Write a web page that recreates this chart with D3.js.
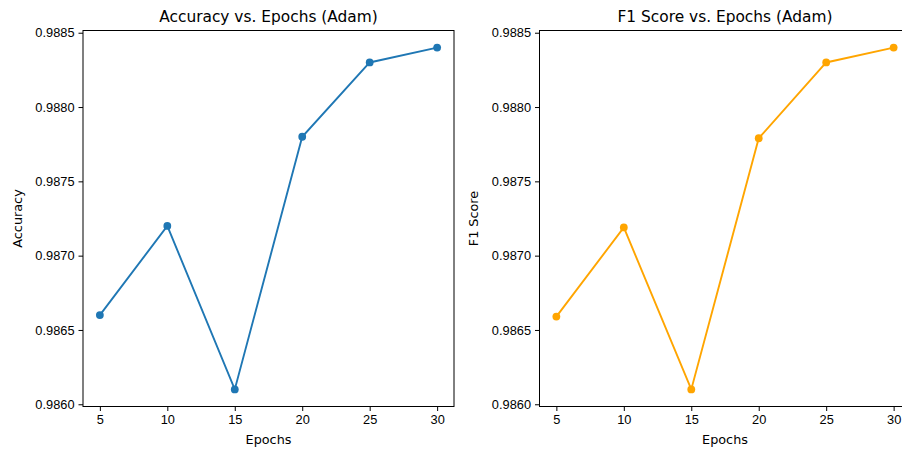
<!DOCTYPE html>
<html>
<head>
<meta charset="utf-8">
<script src="https://cdn.jsdelivr.net/npm/d3@7"></script>
<style>
  body { margin: 0; background: #fff; overflow: hidden; }
  svg { display: block; font-family: "DejaVu Sans", sans-serif; }
</style>
</head>
<body>
<div id="chart"></div>
<script>
const epochs = [5, 10, 15, 20, 25, 30];
const accuracy = [0.9866, 0.9872, 0.9861, 0.9878, 0.9883, 0.9884];
const f1Score = [0.98659, 0.98719, 0.9861, 0.98779, 0.9883, 0.9884];
const xTicks = [5, 10, 15, 20, 25, 30];
const yTicks = [0.9860, 0.9865, 0.9870, 0.9875, 0.9880, 0.9885];

const W = 902, H = 449;
const svg = d3.select('#chart').append('svg')
    .attr('width', W)
    .attr('height', H);

const panels = [
    { left: 83, title: 'Accuracy vs. Epochs (Adam)', ylabel: 'Accuracy', values: accuracy, color: '#1f77b4' },
    { left: 539.5, title: 'F1 Score vs. Epochs (Adam)', ylabel: 'F1 Score', values: f1Score, color: '#ffa500' }
];

const plotW = 371, plotTop = 30.5, plotH = 376;
const tickFont = '12.8px', titleFont = '15.4px';

panels.forEach(p => {
    // matplotlib style 5% margins on the data range
    const xMin = d3.min(epochs), xMax = d3.max(epochs);
    const xPad = (xMax - xMin) * 0.05;
    const yLo = d3.min(p.values), yHi = d3.max(p.values);
    const yPad = (yHi - yLo) * 0.05;

    const xScale = d3.scaleLinear()
        .domain([xMin - xPad, xMax + xPad])
        .range([0, plotW]);
    const yScale = d3.scaleLinear()
        .domain([yLo - yPad, yHi + yPad])
        .range([plotH, 0]);

    const g = svg.append('g')
        .attr('transform', `translate(${p.left}, ${plotTop})`);

    // x axis
    const xAxis = g.append('g')
        .attr('transform', `translate(0, ${plotH})`)
        .call(d3.axisBottom(xScale).tickValues(xTicks).tickSize(4.5).tickPadding(4.3).tickSizeOuter(0));
    xAxis.select('.domain').remove();
    xAxis.selectAll('text').style('font-size', tickFont).attr('fill', '#000');
    xAxis.selectAll('line').attr('stroke', '#000').attr('stroke-width', 1);

    // y axis
    const yAxis = g.append('g')
        .call(d3.axisLeft(yScale).tickValues(yTicks).tickFormat(d3.format('.4f')).tickSize(4.5).tickPadding(4).tickSizeOuter(0));
    yAxis.select('.domain').remove();
    yAxis.selectAll('text').style('font-size', tickFont).attr('fill', '#000');
    yAxis.selectAll('line').attr('stroke', '#000').attr('stroke-width', 1);

    // frame
    g.append('rect')
        .attr('x', 0)
        .attr('y', 0)
        .attr('width', plotW)
        .attr('height', plotH)
        .attr('fill', 'none')
        .attr('stroke', '#000')
        .attr('stroke-width', 1);

    const pts = epochs.map((e, i) => ({ x: e, y: p.values[i] }));

    const line = d3.line()
        .x(d => xScale(d.x))
        .y(d => yScale(d.y));

    g.append('path')
        .datum(pts)
        .attr('fill', 'none')
        .attr('stroke', p.color)
        .attr('stroke-width', 1.9)
        .attr('d', line);

    g.selectAll('.dot')
        .data(pts)
        .enter()
        .append('circle')
        .attr('cx', d => xScale(d.x))
        .attr('cy', d => yScale(d.y))
        .attr('r', 3.9)
        .attr('fill', p.color);

    // title
    g.append('text')
        .attr('x', plotW / 2)
        .attr('y', -8.5)
        .attr('text-anchor', 'middle')
        .style('font-size', titleFont)
        .text(p.title);

    // axis labels
    g.append('text')
        .attr('x', plotW / 2)
        .attr('y', plotH + 37)
        .attr('text-anchor', 'middle')
        .style('font-size', tickFont)
        .text('Epochs');

    g.append('text')
        .attr('transform', `translate(-61.5, ${plotH / 2}) rotate(-90)`)
        .attr('text-anchor', 'middle')
        .style('font-size', tickFont)
        .text(p.ylabel);
});
</script>
</body>
</html>
